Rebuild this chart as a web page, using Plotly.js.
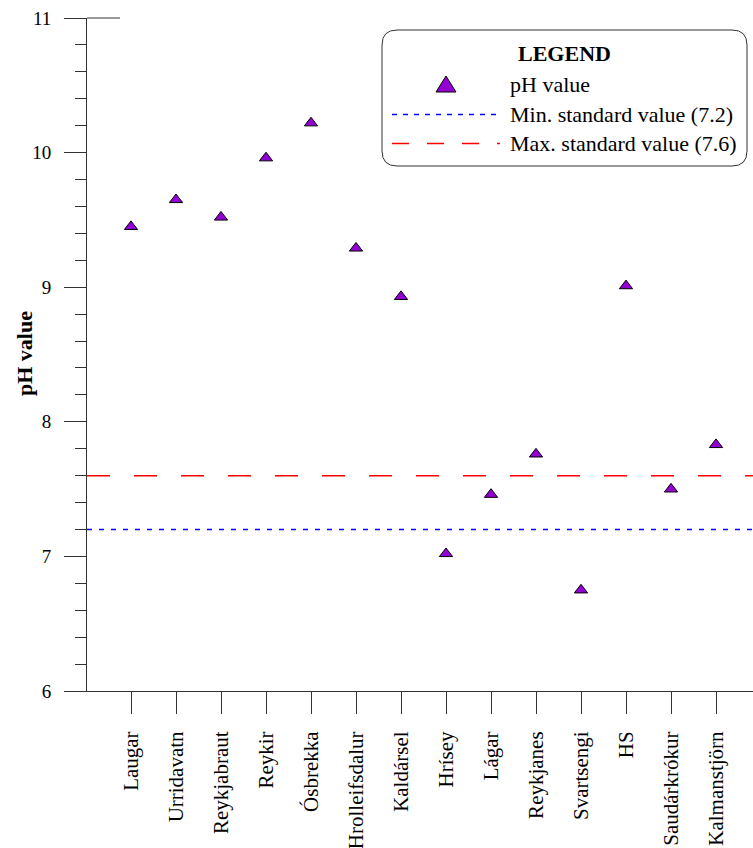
<!DOCTYPE html>
<html><head><meta charset="utf-8">
<script src="https://cdn.plot.ly/plotly-3.0.1.min.js"></script>
<style>body{margin:0;padding:0;background:#fff}#chart{width:753px;height:848px}</style>
</head><body><div id="chart"></div>
<script>
const sites = ['Laugar','Urridavatn','Reykjabraut','Reykir','Ósbrekka','Hrolleifsdalur','Kaldársel','Hrísey','Lágar','Reykjanes','Svartsengi','HS','Saudárkrókur','Kalmanstjörn'];
const phValues = [9.45, 9.65, 9.52, 9.96, 10.22, 9.29, 8.93, 7.02, 7.46, 7.76, 6.75, 9.01, 7.50, 7.83];
const minStandard = 7.2;
const maxStandard = 7.6;
const yTickValues = [6, 7, 8, 9, 10, 11];
const legendTitle = 'LEGEND';
const legendLabels = ['pH value', 'Min. standard value (7.2)', 'Max. standard value (7.6)'];
const yTitle = 'pH value';

const W = 753, H = 848, L = 87, R = 0, T = 18, B = 157;
const pw = W - L - R, ph = H - T - B;
const px = v => (v - L) / pw;
const py = v => (H - B - v) / ph;
const FONT = 'Liberation Serif';
const AX = '#333';
const purple = '#9400D3';

const trace = {
  type: 'scatter', mode: 'markers', x: sites, y: phValues, name: legendLabels[0],
  marker: {symbol: 'triangle-up', size: 11.5, color: purple, line: {color: '#000', width: 1}},
  showlegend: false, hoverinfo: 'x+y'
};

function rr(x0, y0, x1, y1, r) {
  const P = (x, y) => px(x) + ',' + py(y);
  return 'M' + P(x0 + r, y0) + ' L' + P(x1 - r, y0) + ' Q' + P(x1, y0) + ' ' + P(x1, y0 + r) +
    ' L' + P(x1, y1 - r) + ' Q' + P(x1, y1) + ' ' + P(x1 - r, y1) +
    ' L' + P(x0 + r, y1) + ' Q' + P(x0, y1) + ' ' + P(x0, y1 - r) +
    ' L' + P(x0, y0 + r) + ' Q' + P(x0, y0) + ' ' + P(x0 + r, y0) + ' Z';
}

const shapes = [
  {type: 'line', xref: 'paper', yref: 'y', x0: 0, x1: 1, y0: minStandard, y1: minStandard,
   line: {color: '#0000FF', width: 1.5, dash: '5px,7px'}},
  {type: 'line', xref: 'paper', yref: 'y', x0: 0, x1: 1, y0: maxStandard, y1: maxStandard,
   line: {color: '#FF0000', width: 1.5, dash: '23px,24px'}},
  {type: 'line', xref: 'paper', yref: 'paper', x0: 0, x1: px(120), y0: 1, y1: 1,
   line: {color: AX, width: 1}},
  {type: 'path', xref: 'paper', yref: 'paper', path: rr(382, 30, 747, 166, 15),
   fillcolor: '#fff', line: {color: AX, width: 1}, layer: 'above'},
  {type: 'path', xref: 'paper', yref: 'paper',
   path: 'M' + px(436) + ',' + py(92) + ' L' + px(456) + ',' + py(92) + ' L' + px(446) + ',' + py(76) + ' Z',
   fillcolor: purple, line: {color: '#000', width: 1}, layer: 'above'},
  {type: 'line', xref: 'paper', yref: 'paper', x0: px(392), x1: px(500), y0: py(114.5), y1: py(114.5),
   line: {color: '#0000FF', width: 1.5, dash: '5px,6px'}, layer: 'above'},
  {type: 'line', xref: 'paper', yref: 'paper', x0: px(392), x1: px(500), y0: py(143.5), y1: py(143.5),
   line: {color: '#FF0000', width: 1.5, dash: '17px,18px'}, layer: 'above'}
];

const annFont = {family: FONT, size: 22, color: '#000'};
const annotations = [
  {xref: 'paper', yref: 'paper', x: px(564), y: py(53), text: '<b>' + legendTitle + '</b>', showarrow: false,
   xanchor: 'center', yanchor: 'middle', font: annFont},
  {xref: 'paper', yref: 'paper', x: px(508), y: py(85), text: legendLabels[0], showarrow: false,
   xanchor: 'left', yanchor: 'middle', font: annFont},
  {xref: 'paper', yref: 'paper', x: px(508), y: py(114), text: legendLabels[1], showarrow: false,
   xanchor: 'left', yanchor: 'middle', font: annFont},
  {xref: 'paper', yref: 'paper', x: px(508), y: py(143), text: legendLabels[2], showarrow: false,
   xanchor: 'left', yanchor: 'middle', font: annFont},
  {xref: 'paper', yref: 'paper', x: px(24), y: py(354), text: '<b>' + yTitle + '</b>', showarrow: false,
   textangle: -90, xanchor: 'center', yanchor: 'middle', font: annFont}
];

const layout = {
  width: W, height: H, margin: {l: L, r: R, t: T, b: B, pad: 0},
  paper_bgcolor: '#fff', plot_bgcolor: '#fff', showlegend: false,
  font: {family: FONT, color: '#000'},
  xaxis: {
    type: 'category', range: [-44 / 45, -44 / 45 + pw / 45], showgrid: false, zeroline: false,
    showline: true, linecolor: AX, linewidth: 1, ticks: 'outside', ticklen: 22, tickwidth: 1, tickcolor: AX,
    tickangle: -90, tickfont: {family: FONT, size: 21, color: '#000'}, ticklabelstandoff: 9, fixedrange: true
  },
  yaxis: {
    range: [6, 11], tickvals: yTickValues, ticktext: yTickValues.map(String), showgrid: false, zeroline: false,
    showline: true, linecolor: AX, linewidth: 1, ticks: 'outside', ticklen: 22, tickwidth: 1, tickcolor: AX,
    minor: {dtick: 0.2, tick0: 6, ticks: 'outside', ticklen: 11, tickwidth: 1, tickcolor: AX, showgrid: false},
    tickfont: {family: FONT, size: 19, color: '#000'}, ticklabelstandoff: 9, fixedrange: true
  },
  shapes: shapes, annotations: annotations
};

Plotly.newPlot('chart', [trace], layout, {displayModeBar: false, staticPlot: true});
</script>
</body></html>
